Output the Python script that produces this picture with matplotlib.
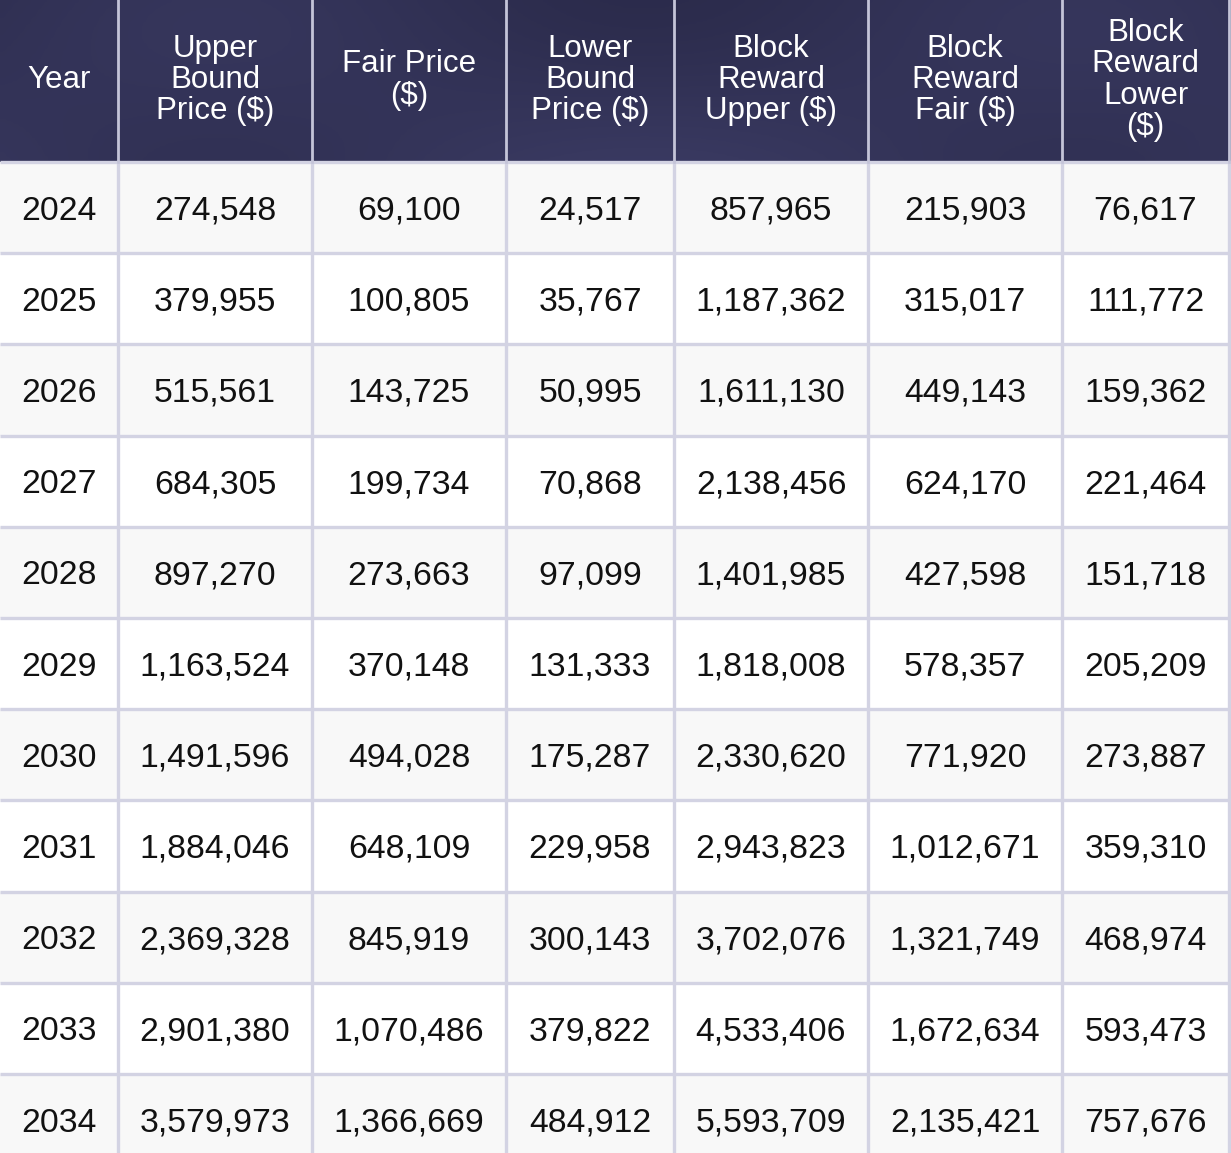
import numpy as np
import matplotlib.pyplot as plt
from matplotlib.patches import Rectangle

# table data
headers = ['Year', 'Upper\nBound\nPrice ($)', 'Fair Price\n($)', 'Lower\nBound\nPrice ($)',
           'Block\nReward\nUpper ($)', 'Block\nReward\nFair ($)', 'Block\nReward\nLower\n($)']
years = ['2024', '2025', '2026', '2027', '2028', '2029', '2030', '2031', '2032', '2033', '2034']
upper_price = [274548, 379955, 515561, 684305, 897270, 1163524, 1491596, 1884046, 2369328, 2901380, 3579973]
fair_price = [69100, 100805, 143725, 199734, 273663, 370148, 494028, 648109, 845919, 1070486, 1366669]
lower_price = [24517, 35767, 50995, 70868, 97099, 131333, 175287, 229958, 300143, 379822, 484912]
reward_upper = [857965, 1187362, 1611130, 2138456, 1401985, 1818008, 2330620, 2943823, 3702076, 4533406, 5593709]
reward_fair = [215903, 315017, 449143, 624170, 427598, 578357, 771920, 1012671, 1321749, 1672634, 2135421]
reward_lower = [76617, 111772, 159362, 221464, 151718, 205209, 273887, 359310, 468974, 593473, 757676]

# layout (pixels)
W, H = 1231, 1153
col_w = [118, 194, 194, 168, 194, 194, 167]
head_h = 162
row_h = 91.2

line_col = '#d3d3e3'
stripe = '#f8f8f8'

plt.rcParams['font.family'] = ['Liberation Sans', 'DejaVu Sans']

fig = plt.figure(figsize=(W / 100, H / 100), dpi=100)
ax = fig.add_axes([0, 0, 1, 1])
ax.set_xlim(0, W)
ax.set_ylim(H, 0)
ax.axis('off')

x_edges = np.concatenate([[0], np.cumsum(col_w)])

# header background with soft gradient
gx = np.linspace(0, 1, 200)
gy = np.linspace(0, 1, 60)
GX, GY = np.meshgrid(gx, gy)
shade = 0.5 + 0.25 * np.sin(GX * 9.0) * np.cos(GY * 2.5) + 0.25 * GY
c0 = np.array([0x27, 0x27, 0x45]) / 255
c1 = np.array([0x3a, 0x3a, 0x62]) / 255
img = c0 + (c1 - c0) * shade[..., None]
ax.imshow(np.clip(img, 0, 1), extent=[0, W, head_h, 0], aspect='auto', zorder=0)

for j, h in enumerate(headers):
    xc = (x_edges[j] + x_edges[j + 1]) / 2
    ax.text(xc, head_h / 2 - 1, h, color='white', fontsize=22.5, ha='center', va='center',
            linespacing=1.06, zorder=3)

# body rows
cols = [years, upper_price, fair_price, lower_price, reward_upper, reward_fair, reward_lower]
for i in range(len(years)):
    y0 = head_h + i * row_h
    ax.add_patch(Rectangle((0, y0), W, row_h, facecolor=stripe if i % 2 == 0 else 'white',
                           edgecolor='none', zorder=1))
    for j, col in enumerate(cols):
        v = col[i]
        s = v if isinstance(v, str) else f'{v:,}'
        xc = (x_edges[j] + x_edges[j + 1]) / 2
        ax.text(xc, y0 + row_h / 2 + 3.5, s, color='#111111', fontsize=24.3, ha='center',
                va='center', zorder=3)
    ax.plot([0, W], [y0, y0], color=line_col, lw=2.4, zorder=2, solid_capstyle='butt')

# vertical lines
for xe in x_edges[1:]:
    ax.plot([xe, xe], [head_h, H], color=line_col, lw=2.4, zorder=2)
    ax.plot([xe, xe], [0, head_h], color='#c4c4d8', lw=2.0, zorder=2)

fig.savefig('out.png', dpi=100)
